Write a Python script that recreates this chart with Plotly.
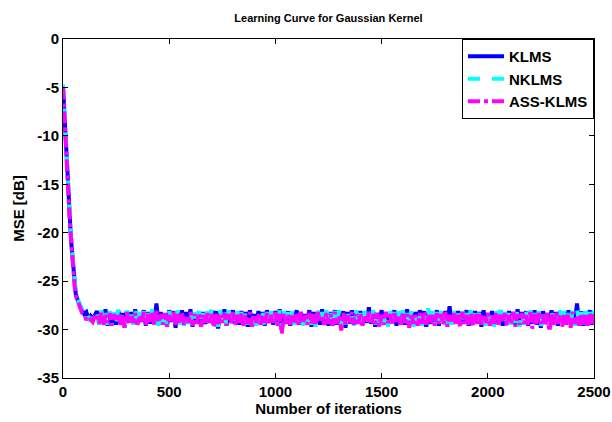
import plotly.graph_objects as go

# sample positions (iterations): dense transient, then every 10 iterations
iterations = list(range(0, 65, 5)) + list(range(70, 160, 10)) + list(range(160, 2510, 10))

klms_mse = [
    -4.9, -7.3, -9.6, -11.9, -14.0, -16.0, -17.9, -19.6, -21.3, -22.8, -24.2, -25.4, -26.3,
    -27.0, -27.6, -28.0, -28.4, -28.2, -28.9, -28.6, -28.9, -28.5,
    -28.1, -29.4, -28.3, -29.2, -27.9, -29.6, -28.2, -29.3, -28.4, -29.5,
    -28.0, -29.3, -28.3, -29.7, -28.1, -29.2, -28.2, -29.5, -27.9, -29.4,
    -28.3, -29.2, -28.0, -29.6, -28.2, -29.4, -28.1, -29.3, -27.3, -29.5,
    -28.2, -29.3, -28.4, -29.6, -28.0, -29.2, -28.1, -29.8, -28.3, -29.4,
    -28.0, -29.5, -28.2, -29.3, -27.9, -29.7, -28.3, -29.2, -28.1, -29.6,
    -28.2, -29.4, -28.4, -29.3, -28.0, -29.5, -28.1, -29.9, -28.3, -29.2,
    -27.9, -29.6, -28.2, -29.3, -28.0, -29.4, -28.3, -29.5, -28.1, -29.2,
    -28.2, -29.7, -28.0, -29.3, -28.4, -29.5, -28.1, -29.4, -28.2, -29.6,
    -28.0, -29.3, -28.3, -29.5, -28.1, -29.2, -27.9, -30.1, -28.2, -29.4,
    -28.1, -29.6, -28.3, -29.3, -28.0, -29.5, -28.2, -29.4, -28.4, -29.2,
    -28.0, -29.7, -28.2, -29.3, -28.1, -29.5, -27.9, -29.4, -28.3, -29.6,
    -28.2, -29.2, -28.0, -29.5, -28.3, -29.3, -28.1, -29.8, -28.2, -29.4,
    -28.0, -29.6, -28.3, -29.2, -28.1, -29.5, -28.2, -29.3, -27.7, -29.4,
    -28.1, -29.7, -28.3, -29.2, -28.0, -29.5, -28.2, -29.4, -28.4, -29.3,
    -28.0, -29.6, -28.2, -29.3, -28.1, -29.5, -27.9, -29.2, -28.3, -29.4,
    -28.2, -29.5, -28.0, -29.3, -28.1, -29.7, -28.3, -29.4, -28.2, -29.2,
    -28.0, -29.6, -28.2, -29.3, -28.1, -29.5, -27.6, -29.4, -28.3, -29.2,
    -28.1, -29.5, -28.2, -29.3, -28.0, -29.6, -28.3, -29.4, -28.1, -29.2,
    -28.2, -29.7, -28.0, -29.4, -28.3, -29.3, -28.1, -29.5, -28.2, -29.2,
    -28.0, -29.6, -28.3, -29.4, -28.1, -29.3, -28.2, -29.5, -27.9, -29.4,
    -28.2, -29.3, -28.1, -29.6, -28.3, -29.4, -28.0, -29.5, -28.2, -29.8,
    -28.1, -29.3, -28.3, -29.5, -28.0, -29.4, -28.2, -29.6, -28.1, -29.3,
    -28.2, -29.5, -28.0, -29.4, -28.3, -29.2, -27.3, -29.5, -28.1, -29.6,
    -28.2, -29.3, -28.0, -29.5, -28.3,
]

nklms_mse = [
    -4.7, -7.1, -9.4, -11.7, -13.8, -15.8, -17.7, -19.5, -21.1, -22.6, -24.0, -25.2, -26.1,
    -26.9, -27.5, -28.1, -28.5, -28.2, -28.8, -29.2, -28.6, -28.8,
    -28.2, -29.5, -28.0, -29.3, -28.3, -29.7, -28.1, -29.4, -28.2, -29.6,
    -27.9, -29.4, -28.2, -29.8, -28.0, -29.3, -28.3, -29.5, -28.1, -29.6,
    -28.2, -29.4, -28.1, -29.7, -28.3, -29.3, -27.9, -29.5, -28.2, -29.6,
    -28.0, -29.4, -28.3, -29.7, -28.1, -29.3, -28.2, -29.9, -28.0, -29.5,
    -28.1, -29.6, -28.3, -29.4, -28.0, -29.8, -28.2, -29.3, -28.1, -29.5,
    -28.3, -29.4, -28.1, -29.6, -27.9, -29.5, -28.2, -29.7, -28.0, -29.3,
    -28.2, -29.5, -28.0, -29.4, -28.3, -29.6, -28.1, -29.3, -28.2, -29.8,
    -28.0, -29.5, -28.3, -29.4, -28.1, -29.6, -28.2, -29.3, -28.0, -29.7,
    -28.2, -29.4, -28.1, -29.6, -28.3, -29.5, -28.0, -30.2, -28.1, -29.4,
    -28.2, -29.7, -28.0, -29.5, -28.3, -29.3, -28.1, -29.6, -28.2, -29.4,
    -28.0, -29.5, -28.3, -29.7, -28.1, -29.4, -28.2, -29.6, -28.0, -29.3,
    -28.3, -29.5, -28.1, -29.4, -28.0, -29.7, -28.2, -29.5, -28.1, -29.3,
    -28.2, -29.6, -28.0, -29.4, -28.3, -29.7, -28.1, -29.5, -28.2, -29.3,
    -28.0, -29.5, -28.2, -29.6, -28.1, -29.4, -28.3, -29.7, -28.0, -29.5,
    -28.2, -29.3, -28.1, -29.6, -28.0, -29.5, -28.3, -29.4, -28.1, -29.7,
    -28.2, -29.4, -28.0, -29.6, -28.3, -29.5, -27.8, -29.3, -28.1, -29.6,
    -28.2, -29.5, -28.0, -29.4, -28.3, -29.7, -28.1, -29.5, -28.0, -29.3,
    -28.2, -29.6, -28.1, -29.4, -28.3, -29.5, -28.0, -29.7, -28.2, -29.4,
    -28.1, -29.5, -28.3, -29.6, -28.0, -29.4, -28.2, -29.7, -28.1, -29.5,
    -28.0, -29.4, -28.2, -29.6, -28.1, -29.5, -28.3, -29.3, -28.0, -29.7,
    -28.2, -29.5, -28.1, -29.4, -28.0, -29.6, -28.3, -29.5, -28.1, -29.7,
    -28.2, -29.4, -28.0, -29.6, -28.1, -29.5, -28.3, -29.4, -28.0, -29.8,
    -28.1, -29.5, -28.3, -29.4, -28.0, -29.6, -27.8, -29.5, -28.2, -29.4,
    -28.1, -29.6, -28.2, -29.4, -28.0,
]

ass_klms_mse = [
    -5.0, -7.5, -9.8, -12.0, -14.1, -16.1, -18.0, -19.8, -21.5, -23.0, -24.5, -25.6, -26.5,
    -27.2, -27.8, -28.3, -28.5, -29.0, -28.7, -28.9, -29.2, -28.6,
    -28.4, -29.4, -28.2, -29.5, -28.5, -29.3, -28.3, -29.6, -28.4, -29.2,
    -28.3, -29.5, -28.5, -29.8, -28.2, -29.4, -28.4, -29.3, -28.3, -29.5,
    -28.5, -29.3, -28.2, -29.6, -28.4, -29.4, -28.3, -29.5, -28.1, -29.3,
    -28.4, -29.5, -28.3, -29.7, -28.5, -29.3, -28.2, -29.6, -28.4, -29.4,
    -28.3, -29.5, -28.5, -29.3, -28.2, -29.6, -28.4, -29.4, -28.3, -29.7,
    -28.5, -29.3, -28.3, -29.5, -28.4, -29.8, -28.2, -29.4, -28.5, -29.3,
    -28.3, -29.6, -28.4, -29.4, -28.2, -29.5, -28.5, -29.3, -28.3, -29.6,
    -28.4, -29.4, -28.2, -29.7, -28.5, -29.3, -28.3, -29.5, -28.4, -29.4,
    -28.3, -29.5, -28.5, -29.3, -28.2, -29.6, -28.4, -30.4, -28.3, -29.4,
    -28.5, -29.5, -28.3, -29.3, -28.4, -29.6, -28.2, -29.4, -28.5, -29.5,
    -28.3, -29.4, -28.4, -29.6, -28.2, -29.3, -28.5, -29.5, -28.3, -29.4,
    -28.4, -29.6, -28.2, -29.4, -28.5, -30.1, -28.3, -29.5, -28.4, -29.3,
    -28.2, -29.5, -28.4, -29.4, -28.3, -29.6, -28.5, -29.3, -28.2, -29.5,
    -28.4, -29.4, -28.3, -29.7, -28.5, -29.5, -28.2, -29.3, -28.4, -29.6,
    -28.3, -29.4, -28.5, -29.5, -28.2, -29.3, -28.4, -29.8, -28.3, -29.4,
    -28.5, -29.6, -28.3, -29.4, -28.2, -29.5, -28.4, -29.3, -28.5, -29.6,
    -28.3, -29.4, -28.4, -29.5, -28.2, -29.7, -28.5, -29.3, -28.3, -29.5,
    -28.4, -29.8, -28.2, -29.4, -28.5, -29.5, -28.3, -29.6, -28.4, -29.4,
    -28.2, -29.5, -28.4, -29.3, -28.3, -29.6, -28.5, -29.4, -28.2, -29.5,
    -28.4, -29.3, -28.3, -29.6, -28.5, -29.4, -28.2, -29.7, -28.4, -29.5,
    -28.3, -29.4, -28.5, -29.6, -28.2, -29.9, -28.4, -29.5, -28.3, -29.4,
    -28.5, -29.6, -28.3, -30.2, -28.4, -29.5, -28.2, -29.4, -28.5, -29.7,
    -28.3, -29.5, -28.4, -29.8, -28.2, -29.4, -28.5, -29.6, -28.3, -29.5,
    -28.4, -29.6, -28.2, -29.4, -28.3,
]

series_names = ["KLMS", "NKLMS", "ASS-KLMS"]
x_ticks = [0, 500, 1000, 1500, 2000, 2500]
y_ticks = [0, -5, -10, -15, -20, -25, -30, -35]

FONT = "Liberation Sans, Arial, Helvetica, sans-serif"

fig = go.Figure()
fig.add_trace(go.Scatter(x=iterations, y=klms_mse, mode="lines", name=series_names[0],
                         line=dict(color="#0000FF", width=4, dash="solid")))
fig.add_trace(go.Scatter(x=iterations, y=nklms_mse, mode="lines", name=series_names[1],
                         line=dict(color="#00FFFF", width=4, dash="dash")))
fig.add_trace(go.Scatter(x=iterations, y=ass_klms_mse, mode="lines", name=series_names[2],
                         line=dict(color="#FF00FF", width=4, dash="dashdot")))

axis_common = dict(
    showline=True, linecolor="black", linewidth=1, mirror="ticks",
    ticks="inside", ticklen=5, tickcolor="black", tickwidth=1,
    showgrid=False, zeroline=False, automargin=False,
    tickfont=dict(family=FONT, size=15, color="black", weight="bold"),
)

fig.update_layout(
    width=612, height=422,
    paper_bgcolor="white", plot_bgcolor="white",
    margin=dict(l=63, r=18, t=39, b=44),
    title=dict(text="Learning Curve for Gaussian Kernel", x=0.5, xanchor="center",
               xref="paper", y=1 - 18 / 422, yanchor="middle", yref="container",
               font=dict(family=FONT, size=11, color="black", weight="bold")),
    xaxis=dict(range=[0, 2500], tickvals=x_ticks, ticktext=[str(v) for v in x_ticks],
               title=dict(text="Number of iterations", standoff=4,
                          font=dict(family=FONT, size=15, color="black", weight="bold")),
               **axis_common),
    yaxis=dict(range=[-35, 0], tickvals=y_ticks, ticktext=[str(v) for v in y_ticks],
               title=dict(text="MSE [dB]", standoff=9,
                          font=dict(family=FONT, size=15, color="black", weight="bold")),
               **axis_common),
    legend=dict(x=1, y=1, xanchor="right", yanchor="top",
                bgcolor="white", bordercolor="black", borderwidth=1,
                font=dict(family=FONT, size=15, color="black", weight="bold"),
                tracegroupgap=0, itemwidth=36),
    showlegend=True,
)

fig.write_html("out.html", config={"displayModeBar": False},
               post_script="document.body.style.margin='0';")
